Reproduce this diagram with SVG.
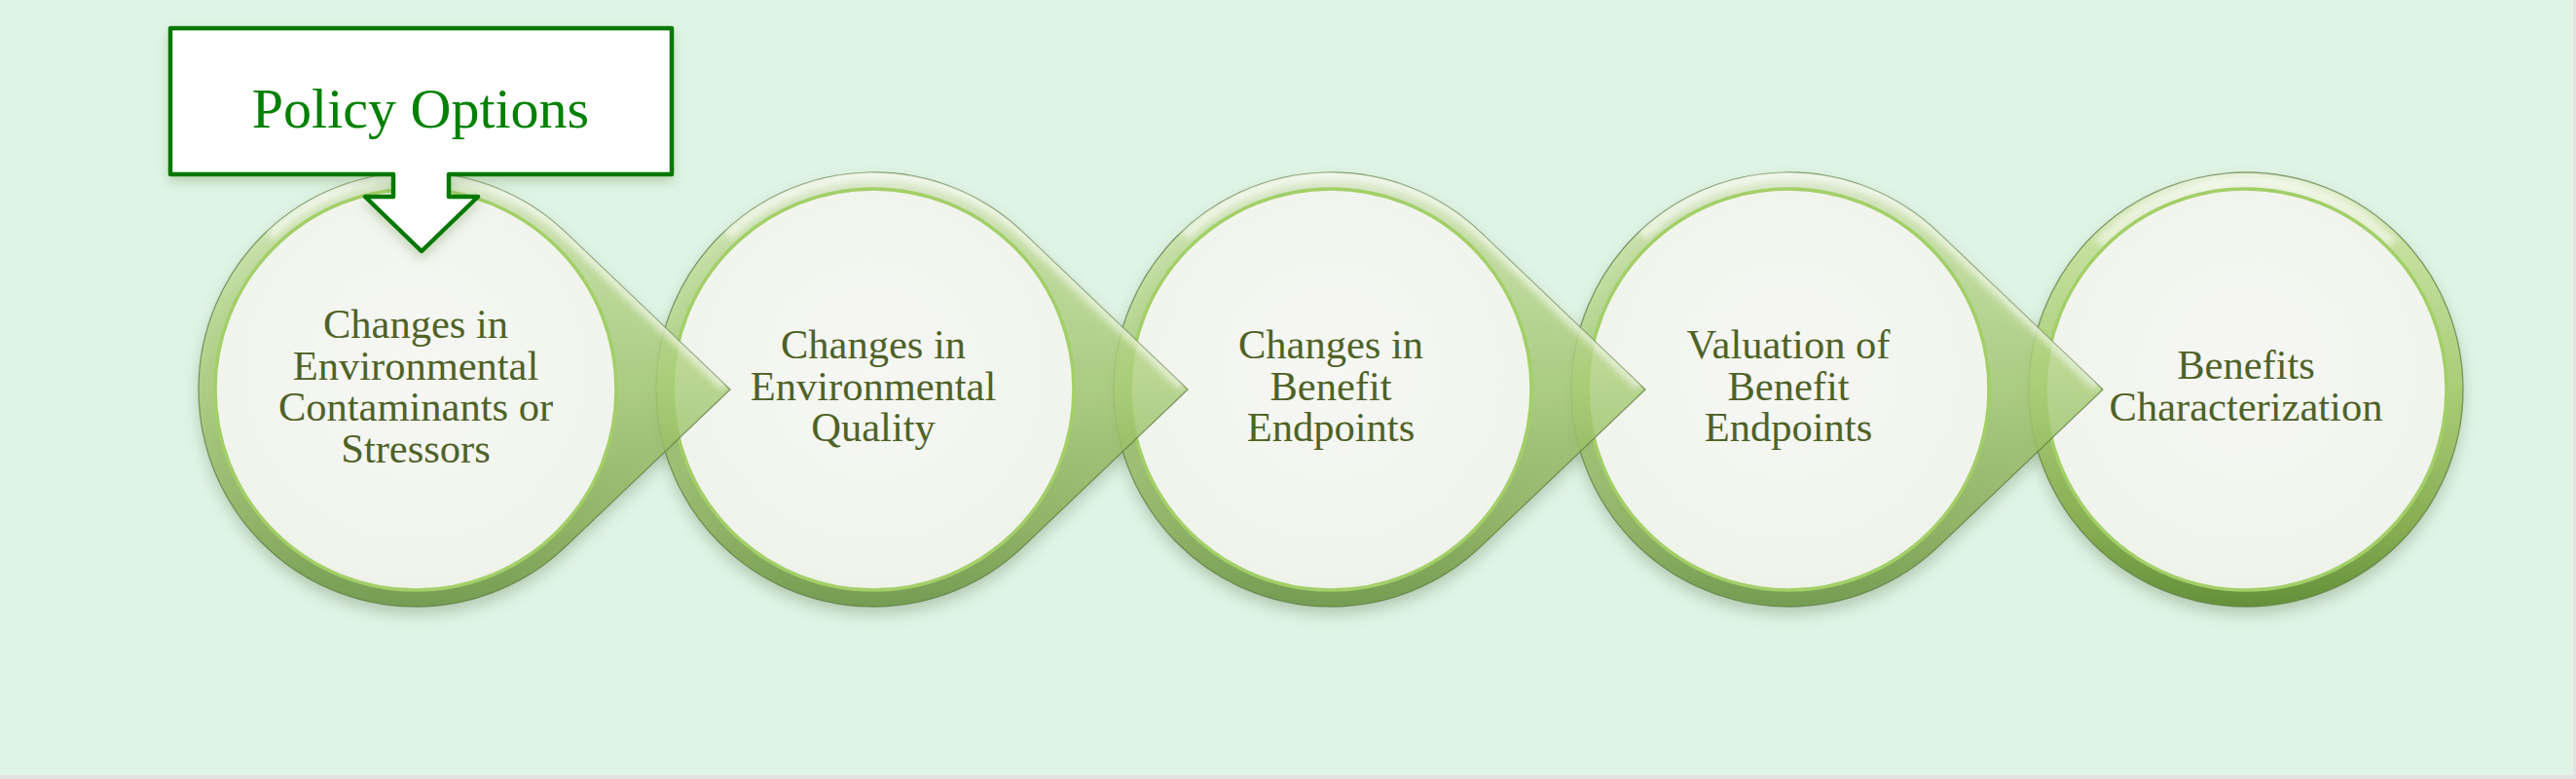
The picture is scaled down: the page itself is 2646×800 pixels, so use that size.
<svg xmlns="http://www.w3.org/2000/svg" xmlns:xlink="http://www.w3.org/1999/xlink" width="2646" height="800" viewBox="0 0 2646 800">
<style>
.lbl{font-family:"Liberation Serif","Times New Roman",serif;font-size:42.5px;fill:#4f6228;text-anchor:middle}
.tear{fill:url(#ringGrad);fill-opacity:0.8;stroke:#5f7f43;stroke-width:1.3;stroke-opacity:0.75}
.ring{fill:url(#ringGrad);stroke:#5f7f43;stroke-width:1.3;stroke-opacity:0.75}
.inner{fill:url(#innerGrad);stroke:#a3cf68;stroke-width:3.5}
.hl{fill:none;stroke:#ffffff;stroke-width:12;stroke-opacity:0.55}
.shadow{fill:#3d5a28;opacity:0.28}
.policy{font-family:"Liberation Serif","Times New Roman",serif;font-size:58px;fill:#008000;text-anchor:middle}
</style>
<defs>
<linearGradient id="ringGrad" x1="0" y1="0" x2="0" y2="1">
<stop offset="0" stop-color="#e3efd4"/>
<stop offset="0.18" stop-color="#c4df9c"/>
<stop offset="0.5" stop-color="#a9cd77"/>
<stop offset="0.82" stop-color="#86ad52"/>
<stop offset="1" stop-color="#64903a"/>
</linearGradient>
<radialGradient id="innerGrad" cx="0.5" cy="0.45" r="0.6">
<stop offset="0" stop-color="#f6f7f3"/>
<stop offset="0.85" stop-color="#f1f4ed"/>
<stop offset="1" stop-color="#e8efe0"/>
</radialGradient>
<path id="tearShape" d="M323 0 L153.96 161.33 A223 223 0 1 1 153.96 -161.33 Z"/>
<clipPath id="tearClip"><use xlink:href="#tearShape"/></clipPath>
<filter id="blur8" x="-20%" y="-20%" width="140%" height="140%"><feGaussianBlur stdDeviation="8"/></filter>
<filter id="blur3" x="-20%" y="-20%" width="140%" height="140%"><feGaussianBlur stdDeviation="3"/></filter>
<filter id="boxShadow" x="-10%" y="-10%" width="120%" height="130%"><feDropShadow dx="0" dy="6" stdDeviation="6" flood-color="#5f8f3f" flood-opacity="0.3"/></filter>
</defs>

<rect x="0" y="0" width="2646" height="800" fill="#e2e2e2"/>
<rect x="0" y="0" width="2643" height="796" fill="#e0f4e6"/>

<g id="shadows">
<use xlink:href="#tearShape" class="shadow" transform="translate(427 408)" filter="url(#blur8)"/>
<use xlink:href="#tearShape" class="shadow" transform="translate(897 408)" filter="url(#blur8)"/>
<use xlink:href="#tearShape" class="shadow" transform="translate(1367 408)" filter="url(#blur8)"/>
<use xlink:href="#tearShape" class="shadow" transform="translate(1837 408)" filter="url(#blur8)"/>
<circle cx="2307" cy="408" r="223" class="shadow" filter="url(#blur8)"/>
</g>

<g id="node5" transform="translate(2307 400)">
<circle cx="0" cy="0" r="223" class="ring"/>
<path class="hl" d="M-150 -150 A210 210 0 0 1 150 -150" filter="url(#blur3)"/>
<circle cx="0" cy="0" r="206" class="inner"/>
<text class="lbl" x="0" y="-11">Benefits</text>
<text class="lbl" x="0" y="31.5">Characterization</text>
</g>

<g id="node4" transform="translate(1837 400)">
<use xlink:href="#tearShape" class="tear"/>
<g clip-path="url(#tearClip)"><path class="hl" d="M-150 -158 A218 218 0 0 1 154 -161 L318 -4" filter="url(#blur3)"/></g>
<circle cx="0" cy="0" r="206" class="inner"/>
<text class="lbl" x="0" y="-32">Valuation of</text>
<text class="lbl" x="0" y="10.5">Benefit</text>
<text class="lbl" x="0" y="53">Endpoints</text>
</g>

<g id="node3" transform="translate(1367 400)">
<use xlink:href="#tearShape" class="tear"/>
<g clip-path="url(#tearClip)"><path class="hl" d="M-150 -158 A218 218 0 0 1 154 -161 L318 -4" filter="url(#blur3)"/></g>
<circle cx="0" cy="0" r="206" class="inner"/>
<text class="lbl" x="0" y="-32">Changes in</text>
<text class="lbl" x="0" y="10.5">Benefit</text>
<text class="lbl" x="0" y="53">Endpoints</text>
</g>

<g id="node2" transform="translate(897 400)">
<use xlink:href="#tearShape" class="tear"/>
<g clip-path="url(#tearClip)"><path class="hl" d="M-150 -158 A218 218 0 0 1 154 -161 L318 -4" filter="url(#blur3)"/></g>
<circle cx="0" cy="0" r="206" class="inner"/>
<text class="lbl" x="0" y="-32">Changes in</text>
<text class="lbl" x="0" y="10.5">Environmental</text>
<text class="lbl" x="0" y="53">Quality</text>
</g>

<g id="node1" transform="translate(427 400)">
<use xlink:href="#tearShape" class="tear"/>
<g clip-path="url(#tearClip)"><path class="hl" d="M-150 -158 A218 218 0 0 1 154 -161 L318 -4" filter="url(#blur3)"/></g>
<circle cx="0" cy="0" r="206" class="inner"/>
<text class="lbl" x="0" y="-53">Changes in</text>
<text class="lbl" x="0" y="-10.5">Environmental</text>
<text class="lbl" x="0" y="32">Contaminants or</text>
<text class="lbl" x="0" y="74.5">Stressors</text>
</g>

<g id="policyOptions">
<path d="M175 29 H690 V179 H461 V202 H491 L433 258 L375 202 H404 V179 H175 Z" fill="#ffffff" stroke="#007800" stroke-width="4.5" stroke-linejoin="round" filter="url(#boxShadow)"/>
<text class="policy" x="432" y="131">Policy Options</text>
</g>

<g id="connectors"></g>
</svg>
